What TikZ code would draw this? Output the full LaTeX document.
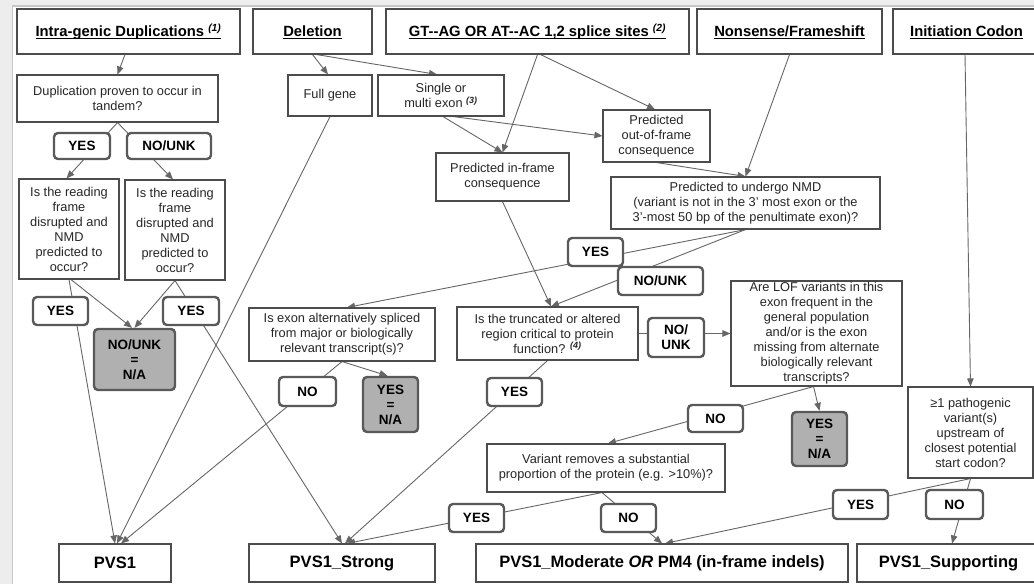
\documentclass[tikz,border=0pt]{standalone}
\usepackage{fontspec}
\setmainfont{Liberation Sans}
\usetikzlibrary{arrows.meta}
\pgfdeclarelayer{back}
\pgfdeclarelayer{bg}
\pgfsetlayers{back,bg,main}
\newcommand\placebox[7]{\node[#2, minimum width={(#5)-(#3)}, minimum height={(#6)-(#4)}] (#1) at ({((#3)+(#5))/2},{((#4)+(#6))/2}) {#7};}
\newcommand\supnote[1]{\textsuperscript{\bfseries\itshape #1}}
\newcommand\headline[1]{\smash{\underline{\smash{#1}}}\vphantom{A}}
\tikzset{
  box/.style={draw=black!70, line width=1.1pt, fill=white, align=center, inner sep=1pt,
    font=\fontsize{12.8}{15}\selectfont, text=black!85},
  head/.style={box, font=\fontsize{14.8}{17}\selectfont\bfseries, text=black},
  outc/.style={box, font=\fontsize{16.5}{19}\selectfont\bfseries, text=black},
  lab/.style={draw=black!65, line width=2.4pt, rounded corners=4pt, fill=white, align=center,
    inner sep=1pt, font=\fontsize{13.5}{15}\selectfont\bfseries, text=black},
  nabox/.style={lab, fill=black!31},
  conn/.style={draw=black!60, line width=0.9pt},
  arr/.style={conn, -{Triangle[length=8pt,width=6.5pt]}},
}
\begin{document}
\begin{tikzpicture}[x=1pt,y=-1pt]
\useasboundingbox (0,0) rectangle (1034,584);
\begin{pgfonlayer}{back}
\fill[white] (0,0) rectangle (1034,584);
\fill[black!7] (0,0) rectangle (1034,6);
\fill[black!7] (0,0) rectangle (12,584);
\draw[black!22, line width=1.5pt] (12.5,584) -- (12.5,6) -- (1034,6);
\end{pgfonlayer}

% headers
\placebox{h1}{head}{17}{9}{240}{54}{\headline{Intra-genic Duplications \supnote{(1)}}}
\placebox{h2}{head}{253}{9}{372}{54}{\headline{Deletion}}
\placebox{h3}{head}{386}{9}{689}{54}{\headline{GT-{}-AG OR AT-{}-AC 1,2 splice sites \supnote{(2)}}}
\placebox{h4}{head}{697}{9}{882}{54}{\headline{Nonsense/Frameshift}}
\placebox{h5}{head}{893}{9}{1040}{54}{\headline{Initiation Codon}}

% duplication branch
\placebox{dup}{box}{17}{75}{218}{122}{Duplication proven to occur in\\tandem?}
\placebox{yes1}{lab}{54}{133}{110}{159}{YES}
\placebox{nounk1}{lab}{127}{133}{211}{159}{NO/UNK}
\placebox{rf1}{box}{19}{179}{119}{279}{Is the reading\\frame\\disrupted and\\NMD\\predicted to\\occur?}
\placebox{rf2}{box}{125}{180}{225}{280}{Is the reading\\frame\\disrupted and\\NMD\\predicted to\\occur?}
\placebox{yes2}{lab}{33}{297}{88}{325}{YES}
\placebox{yes3}{lab}{163}{297}{219}{325}{YES}
\placebox{na1}{nabox}{94}{329}{175}{390}{NO/UNK\\=\\N/A}

% deletion / splice / nonsense
\placebox{full}{box}{288}{75}{372}{116}{Full gene}
\placebox{single}{box}{378}{75}{504}{116}{Single or\\multi exon \supnote{(3)}}
\placebox{outf}{box}{603}{110}{710}{162}{Predicted\\out-of-frame\\consequence}
\placebox{inf}{box}{436}{153}{569}{201}{Predicted in-frame\\consequence}
\placebox{nmd}{box}{611}{177}{880}{229}{Predicted to undergo NMD\\(variant is not in the 3’ most exon or the\\3’-most 50 bp of the penultimate exon)?}
\placebox{yes4}{lab}{568}{238}{623}{266}{YES}
\placebox{nounk2}{lab}{618}{267}{703}{295}{NO/UNK}
\placebox{alt}{box}{249}{308}{435}{361}{Is exon alternatively spliced\\from major or biologically\\relevant transcript(s)?}
\placebox{no1}{lab}{279}{377}{336}{406}{NO}
\placebox{na2}{nabox}{363}{377}{418}{432}{YES\\=\\N/A}
\placebox{trunc}{box}{457}{307}{638}{360}{Is the truncated or altered\\region critical to protein\\function? \supnote{(4)}}
\placebox{nounk3}{lab}{648}{318}{704}{357}{NO/\\UNK}
\placebox{lof}{box}{731}{281}{902}{386}{Are LOF variants in this\\exon frequent in the\\general population\\and/or is the exon\\missing from alternate\\biologically relevant\\transcripts?}
\placebox{yes5}{lab}{487}{378}{542}{406}{YES}
\placebox{no2}{lab}{688}{405}{743}{432}{NO}
\placebox{na3}{nabox}{792}{412}{847}{466}{YES\\=\\N/A}
\placebox{path}{box}{908}{387}{1033}{478}{≥1 pathogenic\\variant(s)\\upstream of\\closest potential\\start codon?}
\placebox{var}{box}{487}{444}{725}{492}{Variant removes a substantial\\proportion of the protein (e.g. >10\%)?}
\placebox{yes6}{lab}{449}{504}{504}{532}{YES}
\placebox{no3}{lab}{601}{504}{656}{532}{NO}
\placebox{yes7}{lab}{833}{490}{888}{519}{YES}
\placebox{no4}{lab}{926}{490}{983}{519}{NO}

% outcomes
\placebox{pvs1}{outc}{59}{544}{171}{582}{PVS1}
\placebox{strong}{outc}{249}{544}{435}{582}{PVS1\_Strong}
\placebox{mod}{outc}{476}{544}{848}{582}{PVS1\_Moderate \textit{OR} PM4 (in-frame indels)}
\placebox{supp}{outc}{857}{544}{1040}{582}{PVS1\_Supporting}

\begin{pgfonlayer}{bg}
\draw[arr] ([xshift=-3.5pt]h1.south) -- (dup.north);
\draw[arr] (dup.south) -- ([xshift=-2.5pt]rf1.north);
\draw[arr] (dup.south) -- ([xshift=-2pt]rf2.north);
\draw[arr] (rf1.south) -- (pvs1.north);
\draw[arr] ([xshift=2pt]rf1.south) -- ([xshift=-2.5pt]na1.north);
\draw[arr] (rf2.south) -- (na1.north);
\draw[arr] (rf2.south) -- (strong.north);
\draw[arr] (h2.south) -- ([xshift=-2pt]full.north);
\draw[arr] ([xshift=4pt]h2.south) -- ([xshift=-4pt]single.north);
\draw[arr] (full.south) -- ([xshift=2pt]pvs1.north);
\draw[arr] ([xshift=2pt]single.south) -- (inf.north);
\draw[arr] ([xshift=12pt]single.south) -- (outf.west);
\draw[arr] (h3.south) -- (inf.north);
\draw[arr] ([xshift=3pt]h3.south) -- ([xshift=-1.5pt]outf.north);
\draw[arr] (h4.south) -- (nmd.north);
\draw[arr] (outf.south) -- (nmd.north);
\draw[arr] ([xshift=-1.5pt]h5.south) -- (path.north);
\draw[arr] (nmd.south) -- ([xshift=5pt]alt.north);
\draw[arr] (nmd.south) -- ([xshift=3.5pt]trunc.north);
\draw[arr] (inf.south) -- ([xshift=3.5pt]trunc.north);
\draw[arr] (alt.south) -- ([xshift=6pt]pvs1.north);
\draw[arr] (alt.south) -- ([xshift=-3pt]na2.north);
\draw[arr] (trunc.south) -- ([xshift=3pt]strong.north);
\draw[arr] (trunc.east) -- (lof.west);
\draw[arr] ([xshift=-3pt]lof.south) -- (na3.north);
\draw[arr] ([xshift=-3pt]lof.south) -- ([xshift=2pt]var.north);
\draw[arr] ([xshift=-4pt]var.south) -- ([xshift=5pt]strong.north);
\draw[arr] ([xshift=-4pt]var.south) -- (mod.north);
\draw[arr] (path.south) -- ([xshift=3pt]mod.north);
\draw[arr] (path.south) -- ([xshift=3.5pt]supp.north);
\end{pgfonlayer}
\end{tikzpicture}
\end{document}
